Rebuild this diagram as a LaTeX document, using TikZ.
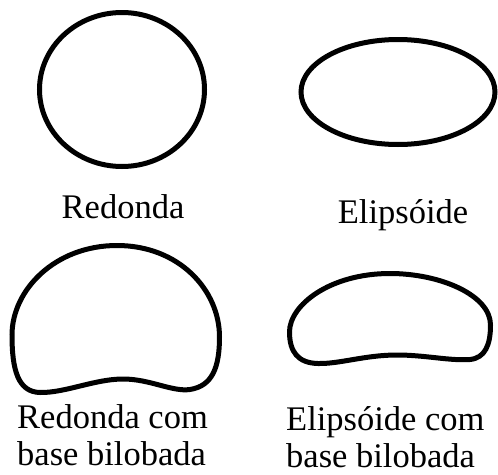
\documentclass[tikz,border=0pt]{standalone}
\usepackage{fontspec}
\setmainfont{Liberation Serif}
\usepackage{tikz}

\begin{document}
\begin{tikzpicture}[x=1pt,y=-1pt,
    outline/.style={line width=5pt,black},
    shapename/.style={font=\fontsize{34.5}{37}\selectfont,inner sep=0pt,align=left}]
        \useasboundingbox (0,0) rectangle (498,474);
        \draw[outline] (122,89.5) ellipse [x radius=82.5,y radius=77];
        \draw[outline] (398,92) ellipse [x radius=97,y radius=52.5];
        \draw[outline] (12,335) .. controls (12,290) and (55,245.5) .. (117,245.5)
            .. controls (179,245.5) and (219.5,290) .. (219.5,337)
            .. controls (219.5,368) and (212,386) .. (190,389.5)
            .. controls (172,392) and (150,379) .. (123,379)
            .. controls (95,379) and (65,393) .. (40,392.5)
            .. controls (18,392) and (12,370) .. cycle;
        \draw[outline] (289.5,332) .. controls (289.5,305) and (330,273.5) .. (390,273.5)
            .. controls (440,273.5) and (490.5,295) .. (490.5,325)
            .. controls (490.5,345) and (485,358) .. (470,359.5)
            .. controls (450,361) and (425,355) .. (397,355)
            .. controls (365,355) and (340,364) .. (318,363.5)
            .. controls (298,363) and (289.5,352) .. cycle;
        \node[shapename,anchor=base] (redonda) at (123,218) {Redonda};
        \node[shapename,anchor=base] (elipsoide) at (403,223) {Elipsóide};
        \node[shapename,anchor=north west] (redondabil) at (17,404) {Redonda com\\base bilobada};
        \node[shapename,anchor=north west] (elipsoidebil) at (286,406) {Elipsóide com\\base bilobada};
\end{tikzpicture}
\end{document}
